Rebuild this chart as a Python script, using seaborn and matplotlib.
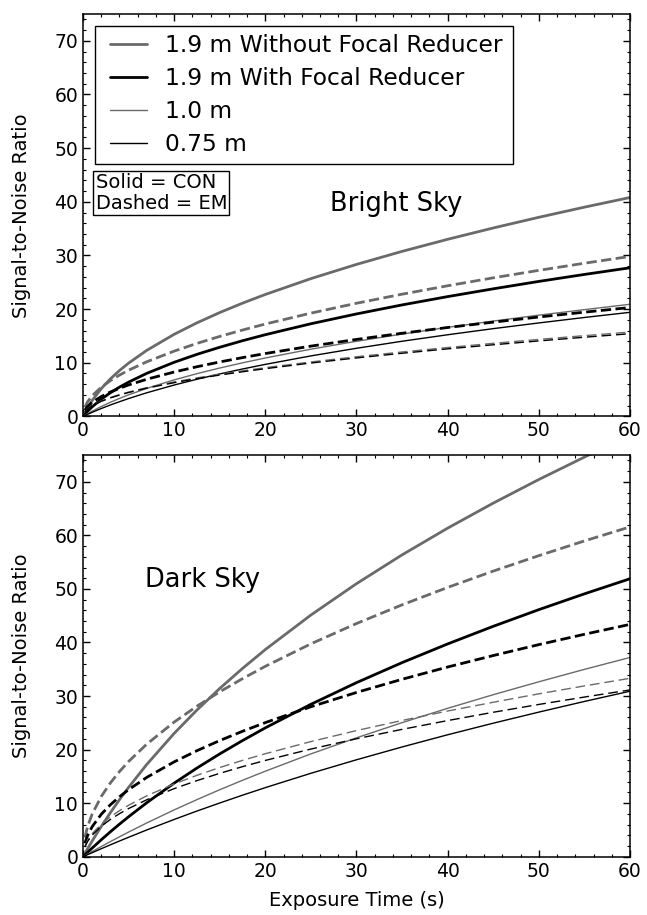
import matplotlib
matplotlib.use("Agg")
import matplotlib.pyplot as plt
import seaborn as sns
from matplotlib.patches import Rectangle
from matplotlib.ticker import MultipleLocator

# exposure times (s); EM curves start slightly after zero
t_con = [0, 0.5, 1, 2, 3, 4, 5, 7, 10, 12.5, 15, 17.5, 20, 25, 30, 35, 40, 45, 50, 55, 60]
t_em = [0.2, 0.5, 1, 2, 3, 4, 5, 7, 10, 12.5, 15, 17.5, 20, 25, 30, 35, 40, 45, 50, 55, 60]

labels = ["1.9 m Without Focal Reducer", "1.9 m With Focal Reducer", "1.0 m", "0.75 m"]

# Bright sky, CON (solid)
bright_con_19 = [0, 1.60, 2.95, 5.18, 6.99, 8.55, 9.93, 12.32, 15.30, 17.44, 19.36, 21.11, 22.73,
                 25.68, 28.33, 30.76, 33.01, 35.12, 37.11, 39.00, 40.80]
bright_con_19fr = [0, 0.95, 1.78, 3.21, 4.41, 5.46, 6.39, 8.03, 10.09, 11.57, 12.89, 14.11, 15.23,
                   17.27, 19.10, 20.78, 22.33, 23.78, 25.16, 26.46, 27.70]
bright_con_10 = [0, 0.50, 0.97, 1.84, 2.63, 3.35, 4.02, 5.23, 6.81, 7.97, 9.02, 9.99, 10.89,
                 12.53, 14.00, 15.35, 16.60, 17.77, 18.87, 19.90, 20.90]
bright_con_075 = [0, 0.39, 0.76, 1.47, 2.13, 2.74, 3.33, 4.41, 5.85, 6.93, 7.92, 8.84, 9.70,
                  11.28, 12.70, 14.01, 15.22, 16.36, 17.42, 18.44, 19.40]
# Bright sky, EM (dashed)
bright_em_19 = [1.72, 2.72, 3.85, 5.44, 6.67, 7.70, 8.61, 10.19, 12.17, 13.61, 14.91, 16.10, 17.22,
                19.25, 21.09, 22.78, 24.35, 25.83, 27.22, 28.55, 29.82]
bright_em_19fr = [1.17, 1.85, 2.62, 3.70, 4.54, 5.24, 5.86, 6.93, 8.28, 9.26, 10.15, 10.96, 11.72,
                  13.10, 14.35, 15.50, 16.57, 17.57, 18.53, 19.43, 20.29]
bright_em_10 = [0.91, 1.44, 2.03, 2.87, 3.52, 4.06, 4.54, 5.37, 6.42, 7.18, 7.86, 8.49, 9.08,
                10.15, 11.12, 12.01, 12.84, 13.62, 14.35, 15.05, 15.72]
bright_em_075 = [0.89, 1.41, 1.99, 2.81, 3.45, 3.98, 4.45, 5.27, 6.29, 7.04, 7.71, 8.32, 8.90,
                 9.95, 10.90, 11.77, 12.59, 13.35, 14.07, 14.76, 15.41]

# Dark sky, CON (solid)
dark_con_19 = [0, 1.48, 2.92, 5.65, 8.22, 10.65, 12.95, 17.24, 23.03, 27.39, 31.42, 35.16, 38.68,
               45.13, 50.98, 56.36, 61.35, 66.02, 70.43, 74.61, 78.59]
dark_con_19fr = [0, 0.82, 1.61, 3.16, 4.65, 6.08, 7.46, 10.09, 13.74, 16.56, 19.20, 21.69, 24.06,
                 28.46, 32.50, 36.24, 39.73, 43.02, 46.13, 49.08, 51.90]
dark_con_10 = [0, 0.48, 0.96, 1.90, 2.82, 3.72, 4.60, 6.31, 8.74, 10.66, 12.51, 14.27, 15.97,
               19.20, 22.20, 25.03, 27.71, 30.25, 32.66, 34.98, 37.20]
dark_con_075 = [0, 0.38, 0.75, 1.49, 2.22, 2.93, 3.63, 5.00, 6.96, 8.53, 10.03, 11.49, 12.90,
                15.58, 18.10, 20.49, 22.77, 24.93, 27.00, 28.99, 30.90]
# Dark sky, EM (dashed)
dark_em_19 = [3.56, 5.62, 7.95, 11.24, 13.77, 15.90, 17.78, 21.03, 25.14, 28.11, 30.79, 33.25, 35.55,
              39.75, 43.54, 47.03, 50.28, 53.33, 56.21, 58.96, 61.58]
dark_em_19fr = [2.50, 3.96, 5.60, 7.92, 9.70, 11.20, 12.52, 14.82, 17.71, 19.80, 21.69, 23.42, 25.04,
                28.00, 30.67, 33.13, 35.42, 37.56, 39.60, 41.53, 43.38]
dark_em_10 = [1.92, 3.04, 4.30, 6.08, 7.45, 8.60, 9.61, 11.38, 13.60, 15.20, 16.65, 17.99, 19.23,
              21.50, 23.55, 25.44, 27.20, 28.84, 30.41, 31.89, 33.31]
dark_em_075 = [1.80, 2.84, 4.02, 5.68, 6.96, 8.04, 8.99, 10.64, 12.71, 14.21, 15.57, 16.82, 17.98,
               20.10, 22.02, 23.78, 25.42, 26.97, 28.43, 29.81, 31.14]

GRAY = "#6a6a6a"
styles = [(GRAY, 2.0), ("black", 2.0), (GRAY, 1.0), ("black", 1.0)]

sns.set_theme(style="ticks")
plt.rcParams["font.family"] = ["DejaVu Sans"]
plt.rcParams.update({
    "text.color": "black", "axes.labelcolor": "black",
    "xtick.labelcolor": "black", "ytick.labelcolor": "black",
    "xtick.direction": "in", "ytick.direction": "in",
    "xtick.top": True, "ytick.right": True,
    "xtick.minor.visible": True, "ytick.minor.visible": True,
    "xtick.major.size": 5, "ytick.major.size": 5,
    "xtick.minor.size": 2.5, "ytick.minor.size": 2.5,
    "xtick.color": "black", "ytick.color": "black",
    "axes.edgecolor": "black", "axes.linewidth": 1.1,
    "lines.solid_joinstyle": "round", "lines.dash_joinstyle": "round",
})

fig = plt.figure(figsize=(6.47, 9.15), dpi=100)
ax_top = fig.add_axes([0.1283, 0.5449, 0.8454, 0.4398])
ax_bot = fig.add_axes([0.1283, 0.0637, 0.8454, 0.4390])


def draw_panel(ax, con, em, with_labels):
    for (color, lw), y, lab in zip(styles, con, labels):
        sns.lineplot(x=t_con, y=y, ax=ax, color=color, lw=lw,
                     label=lab if with_labels else None, legend=False)
    for (color, lw), y in zip(styles, em):
        dash = (0, (3.7, 1.6)) if lw > 1.5 else (0, (7, 3.5))
        sns.lineplot(x=t_em, y=y, ax=ax, color=color, lw=lw, linestyle=dash, legend=False)
    ax.set_xlim(0, 60)
    ax.set_ylim(0, 75)
    ax.xaxis.set_major_locator(MultipleLocator(10))
    ax.xaxis.set_minor_locator(MultipleLocator(2))
    ax.yaxis.set_major_locator(MultipleLocator(10))
    ax.yaxis.set_minor_locator(MultipleLocator(2))
    ax.tick_params(labelsize=13.5, width=1.0)
    ax.tick_params(which="minor", width=0.8)
    ax.set_ylabel("Signal-to-Noise Ratio", fontsize=14)
    ax.yaxis.set_label_coords(-0.095, 0.5)


draw_panel(ax_top,
           [bright_con_19, bright_con_19fr, bright_con_10, bright_con_075],
           [bright_em_19, bright_em_19fr, bright_em_10, bright_em_075], True)
draw_panel(ax_bot,
           [dark_con_19, dark_con_19fr, dark_con_10, dark_con_075],
           [dark_em_19, dark_em_19fr, dark_em_10, dark_em_075], False)

ax_top.set_xlabel("")
# legend frame drawn separately so the inner padding can be wider than tall
ax_top.add_patch(Rectangle((0.022, 0.627), 0.764, 0.343, transform=ax_top.transAxes,
                           fc="white", ec="black", lw=1.0, zorder=4))
leg = ax_top.legend(loc="upper left", bbox_to_anchor=(0.0494, 0.950), borderaxespad=0,
                    fontsize=16.8, frameon=False, handlelength=1.57, labelspacing=0.43,
                    borderpad=0, handletextpad=0.8)
leg.set_zorder(5)

ax_top.text(0.023, 0.605, "Solid = CON\nDashed = EM", transform=ax_top.transAxes,
            fontsize=14, va="top", ha="left", linespacing=1.12,
            bbox=dict(boxstyle="square,pad=0.12", fc="white", ec="black", lw=1.0))
ax_top.text(0.452, 0.528, "Bright Sky", transform=ax_top.transAxes,
            fontsize=18.5, va="center", ha="left")
ax_bot.text(0.113, 0.689, "Dark Sky", transform=ax_bot.transAxes,
            fontsize=18.5, va="center", ha="left")

ax_bot.set_xlabel("Exposure Time (s)", fontsize=14)
ax_bot.xaxis.set_label_coords(0.5, -0.085)

fig.savefig("out.png", dpi=100)
